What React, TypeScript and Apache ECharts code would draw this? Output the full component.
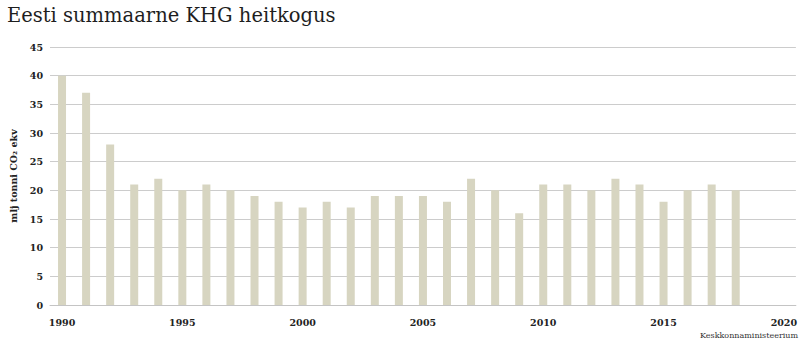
import React, { useEffect, useRef } from "react";
import * as echarts from "echarts";

const years: string[] = [];
for (let y = 1990; y <= 2020; y++) years.push(String(y));

const emissions = [
  40, 37, 28, 21, 22, 20, 21, 20, 19, 18, 17, 18, 17, 19, 19, 19, 18, 22, 20, 16,
  21, 21, 20, 22, 21, 18, 20, 21, 20,
];

const titleText = "Eesti summaarne KHG heitkogus";
const yAxisName = "mlj tonni CO₂ ekv";
const sourceText = "Keskkonnaministeerium";

export default function App() {
  const ref = useRef<HTMLDivElement>(null);
  useEffect(() => {
    if (!ref.current) return;
    const chart = echarts.init(ref.current, undefined, { renderer: "svg" });
    const font = "DejaVu Serif";
    chart.setOption({
      animation: false,
      backgroundColor: "#ffffff",
      title: {
        text: titleText,
        left: 2,
        top: 0,
        textStyle: { fontFamily: font, fontSize: 19.5, fontWeight: "normal", color: "#1e1e1e" },
      },
      graphic: [
        {
          type: "text",
          right: 2,
          top: 331,
          style: { text: sourceText, font: `8px "${font}"`, fill: "#333" },
        },
      ],
      grid: { left: 46, right: 4, top: 47, bottom: 42 },
      xAxis: {
        type: "category",
        data: years,
        boundaryGap: true,
        axisTick: { show: false },
        axisLine: { lineStyle: { color: "#c4c4c4", width: 1 } },
        axisLabel: {
          interval: 4,
          margin: 12,
          fontFamily: font,
          fontWeight: "bold",
          fontSize: 9.5,
          color: "#222",
        },
      },
      yAxis: {
        type: "value",
        min: 0,
        max: 45,
        interval: 5,
        name: yAxisName,
        nameLocation: "middle",
        nameRotate: 90,
        nameGap: 32,
        nameTextStyle: { fontFamily: font, fontWeight: "bold", fontSize: 9.5, color: "#222" },
        axisLine: { show: false },
        axisTick: { show: false },
        axisLabel: {
          margin: 7,
          fontFamily: font,
          fontWeight: "bold",
          fontSize: 9.5,
          color: "#222",
        },
        splitLine: { lineStyle: { color: "#cccccc", width: 1 } },
      },
      series: [
        {
          type: "bar",
          data: emissions,
          barWidth: 8,
          itemStyle: { color: "#d7d5c1" },
        },
      ],
    });
    return () => chart.dispose();
  }, []);
  return (
    <div
      ref={ref}
      style={{ position: "fixed", left: 0, top: 0, width: 800, height: 347 }}
    />
  );
}
